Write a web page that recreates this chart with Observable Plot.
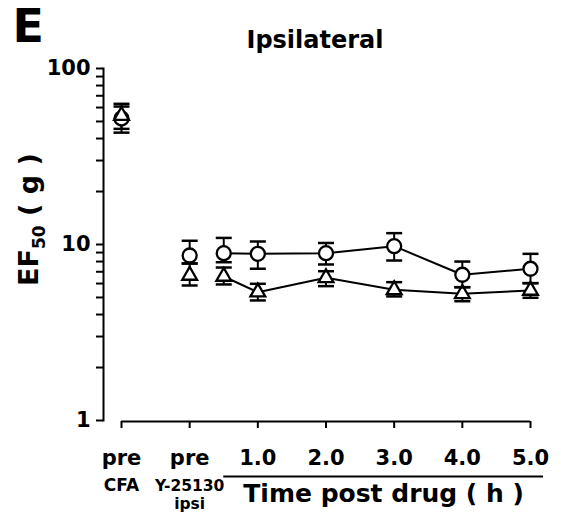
<!DOCTYPE html>
<html><head><meta charset="utf-8">
<script src="https://cdn.jsdelivr.net/npm/d3@7"></script>
<script src="https://cdn.jsdelivr.net/npm/@observablehq/plot@0.6"></script>
<style>body{margin:0;background:#fff}</style>
</head><body><div id="chart"></div>
<script>
// x positions: -1 = pre CFA, 0 = pre Y-25130, then hours post drug
const xPositions = [-1, 0, 0.5, 1, 2, 3, 4, 5];
// circle series
const circleMean = [52, 8.66, 8.93, 8.85, 8.93, 9.78, 6.73, 7.28];
const circleLow  = [45.4, 7.80, 7.93, 7.28, 7.70, 8.11, 5.72, 6.03];
const circleHigh = [60.8, 10.5, 10.9, 10.4, 10.2, 11.6, 8.0, 8.85];
// triangle series
const triMean = [54, 6.67, 6.58, 5.36, 6.47, 5.53, 5.25, 5.48];
const triLow  = [43.2, 5.85, 5.93, 4.81, 5.80, 5.07, 4.76, 4.98];
const triHigh = [63, 7.80, 7.40, 5.98, 7.05, 6.11, 5.72, 6.03];

const xTickValues = [-1, 0, 1, 2, 3, 4, 5];
const xTickLabels = ["pre", "pre", "1.0", "2.0", "3.0", "4.0", "5.0"];
const yTickValues = [1,2,3,4,5,6,7,8,9,10,20,30,40,50,60,70,80,90,100];
const yMajorTicks = [1, 10, 100];
const subLabels = [
  {x: -1, text: "CFA", size: 17, dy: 70},
  {x: 0, text: "Y-25130", size: 15.5, dy: 70},
  {x: 0, text: "ipsi", size: 15.5, dy: 88}
];
const timeRange = [0.5, 5];
const title = "Ipsilateral";
const panelLetter = "E";
const yLabel = "EF50 ( g )";
const xLabel = "Time post drug ( h )";

const circles = xPositions.map((x, i) => ({x, mean: circleMean[i], low: circleLow[i], high: circleHigh[i]}));
const triangles = xPositions.map((x, i) => ({x, mean: triMean[i], low: triLow[i], high: triHigh[i]}));
const isPost = d => d.x > 0;

const cap = {draw(ctx) { ctx.moveTo(-8, 0); ctx.lineTo(8, 0); }};

const plot = Plot.plot({
  width: 561,
  height: 523,
  marginLeft: 103,
  marginRight: 21,
  marginTop: 68,
  marginBottom: 103,
  style: {fontFamily: "'DejaVu Sans', sans-serif", fontWeight: "bold", fontSize: "20px", color: "black", background: "white", overflow: "visible"},
  x: {domain: [-1, 5], range: [121, 530], axis: null},
  y: {type: "log", domain: [1, 100], range: [420, 68], axis: null},
  marks: [
    Plot.frame({anchor: "left", strokeWidth: 2}),
    Plot.axisY({ticks: yTickValues, tickSize: 7, tickPadding: 6, strokeWidth: 2, fontSize: 21,
      tickFormat: d => yMajorTicks.includes(d) ? String(d) : "", label: null}),
    Plot.ruleY([1], {x1: -1, x2: 5, strokeWidth: 2, dy: 1}),
    Plot.axisX({ticks: xTickValues, tickSize: 7, tickPadding: 22, strokeWidth: 2, fontSize: 21, dy: 1,
      tickFormat: (d) => xTickLabels[xTickValues.indexOf(d)], label: null}),
    Plot.text(subLabels, {x: "x", text: "text", fontSize: "size", frameAnchor: "bottom", lineAnchor: "bottom"}),
    Plot.ruleY([1], {x1: timeRange[0], x2: timeRange[1], insetRight: -13, strokeWidth: 2, dy: 56}),
    Plot.text([xLabel], {x: (timeRange[0] + timeRange[1]) / 2, frameAnchor: "bottom", lineAnchor: "bottom", dy: 81, dx: 6.5, fontSize: 25}),
    Plot.text([title], {frameAnchor: "top", lineAnchor: "bottom", dy: -21, dx: -7, fontSize: 24}),
    Plot.text([panelLetter], {frameAnchor: "top-left", textAnchor: "start", lineAnchor: "bottom", dx: -91, dy: -27, fontSize: 46}),
    Plot.text([yLabel], {frameAnchor: "left", rotate: -90, textAnchor: "middle", lineAnchor: "middle", dx: -74, dy: -25, fontSize: 27}),
    // error bars
    Plot.ruleX(circles, {x: "x", y1: "low", y2: "high", strokeWidth: 2}),
    Plot.ruleX(triangles, {x: "x", y1: "low", y2: "high", strokeWidth: 2}),
    // connecting lines
    Plot.line(circles.filter(isPost), {x: "x", y: "mean", strokeWidth: 2}),
    Plot.line(triangles.filter(isPost), {x: "x", y: "mean", strokeWidth: 2}),
    // markers
    Plot.dot(circles, {x: "x", y: "mean", r: 7, fill: "white", stroke: "black", strokeWidth: 2.3}),
    Plot.dot(triangles, {x: "x", y: "mean", symbol: "triangle", r: 5.5, fill: "white", stroke: "black", strokeWidth: 2.3}),
    // caps
    Plot.dot(circles, {x: "x", y: "high", symbol: cap, fill: "none", stroke: "black", strokeWidth: 2.5}),
    Plot.dot(circles, {x: "x", y: "low", symbol: cap, fill: "none", stroke: "black", strokeWidth: 2.5}),
    Plot.dot(triangles, {x: "x", y: "high", symbol: cap, fill: "none", stroke: "black", strokeWidth: 2.5}),
    Plot.dot(triangles, {x: "x", y: "low", symbol: cap, fill: "none", stroke: "black", strokeWidth: 2.5})
  ]
});

// sub-label vertical offsets and subscript in y label
d3.select(plot).selectAll("text").each(function() {
  const t = this.textContent;
  const s = subLabels.find(d => d.text === t);
  if (s) {
    const tr = this.getAttribute("transform") || "";
    this.setAttribute("transform", tr + ` translate(0,${s.dy})`);
  }
  if (t === yLabel) {
    const el = d3.select(this);
    el.text(null);
    el.append("tspan").text("EF");
    el.append("tspan").attr("font-size", 17).attr("dy", 7).text("50");
    el.append("tspan").attr("dy", -7).text(" ( g )");
  }
});

document.getElementById("chart").append(plot);
</script>
</body></html>
